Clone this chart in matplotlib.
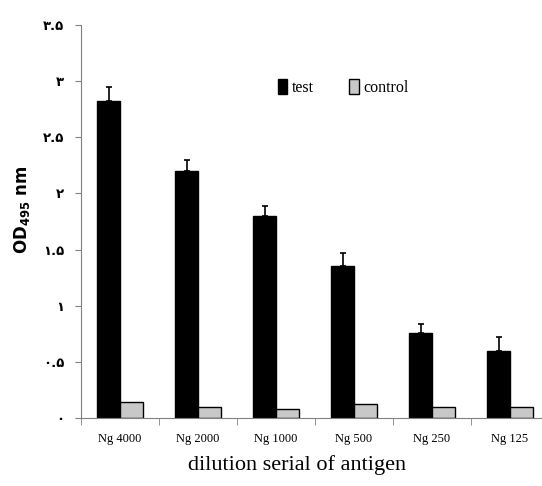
import numpy as np
import matplotlib.pyplot as plt
import matplotlib.ticker as mticker

# values
categories = ["Ng 4000", "Ng 2000", "Ng 1000", "Ng 500", "Ng 250", "Ng 125"]
test_vals = [2.82, 2.20, 1.80, 1.35, 0.76, 0.60]
test_err = [0.13, 0.10, 0.09, 0.12, 0.08, 0.12]
control_vals = [0.145, 0.095, 0.083, 0.125, 0.095, 0.095]
ytick_vals = [0, 0.5, 1, 1.5, 2, 2.5, 3, 3.5]
ytick_labels = ["\u06f0", "\u06f0.\u06f5", "\u06f1", "\u06f1.\u06f5", "\u06f2",
                "\u06f2.\u06f5", "\u06f3", "\u06f3.\u06f5"]

serif = ["Liberation Serif", "DejaVu Serif"]

fig = plt.figure(figsize=(5.42, 4.86), dpi=100)
ax = fig.add_axes([0.1494, 0.1399, 0.8635, 0.8086])

x = np.arange(len(categories))
w = 0.29
ax.bar(x - w / 2, test_vals, w, color="black", edgecolor="black", label="test")
ax.errorbar(x - w / 2, test_vals, yerr=[np.zeros(len(x)), test_err], fmt="none",
            ecolor="black", elinewidth=1.2, capsize=2.5, capthick=1.2)
ax.bar(x + w / 2, control_vals, w, color="#c8c8c8", edgecolor="black",
       linewidth=1.0, label="control")

ax.set_xlim(-0.5, 5.5)
ax.set_ylim(0, 3.5)

ax.spines["top"].set_visible(False)
ax.spines["right"].set_visible(False)
ax.spines["left"].set_color("#808080")
ax.spines["bottom"].set_color("#808080")

ax.set_yticks(ytick_vals)
ax.set_yticklabels(ytick_labels, family=["DejaVu Sans"], fontsize=9.5, fontweight="bold")
ax.tick_params(axis="y", length=4, color="#808080", pad=8)

ax.set_xticks(x)
ax.set_xticklabels(categories, family=serif, fontsize=9)
ax.xaxis.set_minor_locator(mticker.FixedLocator(np.arange(-0.5, 6, 1)))
ax.tick_params(axis="x", which="major", length=0, pad=11)
ax.tick_params(axis="x", which="minor", length=5, color="#808080")

ax.set_ylabel(r"OD$_{\mathregular{495}}$ nm", fontsize=12, fontweight="bold",
              family=["DejaVu Sans"])
ax.yaxis.set_label_coords(-0.105, 0.53)
ax.set_xlabel("dilution serial of antigen", family=serif, fontsize=16)
ax.xaxis.set_label_coords(0.4615, -0.095)

ax.legend(loc="upper left", bbox_to_anchor=(0.39, 0.9), ncol=2, frameon=False,
          prop={"family": serif, "size": 11.5}, handlelength=0.6, handleheight=1.1,
          handletextpad=0.3, columnspacing=2.2)

plt.savefig("out.png", dpi=100)
